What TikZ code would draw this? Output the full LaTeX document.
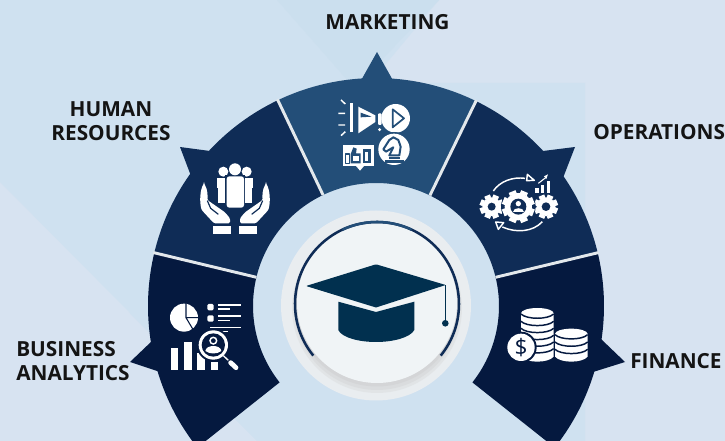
\documentclass[tikz,border=0pt]{standalone}
\usepackage{fontspec}
\setmainfont{Open Sans}
\definecolor{bgbase}{HTML}{D7E3F1}
\definecolor{bglight}{HTML}{CFE1F0}
\definecolor{bgdark}{HTML}{CBDFEE}
\definecolor{segmk}{HTML}{234E78}
\definecolor{seghr}{HTML}{0F2C56}
\definecolor{segba}{HTML}{05193F}
\definecolor{divline}{HTML}{E3E8EC}
\definecolor{ringc}{HTML}{E9EDF0}
\definecolor{disc}{HTML}{F0F4F6}
\definecolor{capc}{HTML}{01304F}
\newcommand{\segm}[3]{\fill[#3,shift={(376,306)}] (#1:228) arc[start angle=#1,end angle=#2,radius=228] -- (#2:123) arc[start angle=#2,end angle=#1,radius=123] -- cycle;}
\newcommand{\divl}[1]{\draw[divline,line width=2.2pt,shift={(376,306)}] (#1:123) -- (#1:229);}
% cx cy r hole teeth-width holecolor
\newcommand{\gearic}[6]{\fill[white] (#1,#2) circle (#3);
 \foreach \a in {0,45,...,315}{\fill[white,shift={(#1,#2)},rotate=\a+22.5] (#3-2,-#5) rectangle (#3+8,#5);}
 \fill[#6] (#1,#2) circle (#4);}
\tikzset{lab/.style={font=\fontsize{15.6}{18}\selectfont\bfseries,text=black!92,align=center,inner sep=0pt},
 icn/.style={x=.25pt,y=-.25pt}}
\begin{document}
\begin{tikzpicture}[x=.75pt,y=-.75pt]
\useasboundingbox (0,0) rectangle (725,441);
\clip (0,0) rectangle (725,441);
% background
\fill[bgbase] (0,0) rectangle (725,441);
\fill[bglight] (0,0) -- (439,0) -- (356,100) -- (356,441) -- (257,441) -- (0,182) -- cycle;
\fill[bglight] (130,83) -- (585,83) -- (585,441) -- (257,441) -- (130,313) -- cycle;
\fill[bgdark] (277,0) -- (439,0) -- (372,70) -- (356,90) -- cycle;
% spikes
\fill[segmk] (377,52) -- (359,84) -- (395,84) -- cycle;
\fill[seghr] (180,147) -- (210,151) -- (215,170) -- (191,176) -- cycle;
\fill[seghr] (575,147) -- (543,151) -- (540,170) -- (563,178) -- cycle;
\fill[segba] (130,362) -- (152,341) -- (175,350) -- (160,372) -- cycle;
\fill[segba] (625,362) -- (601,339) -- (580,350) -- (593,372) -- cycle;
% segments
\segm{-115.5}{-64}{segmk}
\segm{-166.5}{-115.5}{seghr}
\segm{-64}{-13.5}{seghr}
\segm{141.6}{193.5}{segba}
\segm{-13.5}{38.4}{segba}
\divl{-115.5}\divl{-64}\divl{-166.5}\divl{-13.5}
% central disc
\fill[ringc] (376,305.5) circle (95);
\fill[black!22,opacity=.22] (377,308) circle (85);
\fill[black!22,opacity=.25] (377,307) circle (83);
\fill[black!22,opacity=.3] (377,305) circle (81.5);
\fill[disc] (377,303) circle (80);
\draw[seghr,line width=1.9pt,shift={(377,304)}] (141:82) arc[start angle=141,end angle=399,radius=82];
\draw[segmk,line width=1.9pt,shift={(377,304)}] (-115:82) arc[start angle=-115,end angle=-65,radius=82];
% graduation cap
\fill[capc,rounded corners=.6pt] (306,286) -- (376,264.3) -- (445.7,285) -- (376,307.5) -- cycle;
\fill[capc] (338.3,301.7) -- (376,312) -- (414.3,301.7) -- (414.3,330) .. controls (410,338) and (392,342) .. (376,342) .. controls (360,342) and (342,338) .. (338.3,330) -- cycle;
\draw[capc,line width=1pt] (445.5,285) -- (445.5,322);
\fill[capc] (445.3,323.3) circle (3.3);
% ---------- marketing icon
\begin{scope}[shift={(330,90)},icn]
\fill[white] (60,40) rectangle (70,126);
\draw[white,line width=1.1pt] (25,70)--(45,70) (25,105)--(45,105) (33,30)--(46,42) (33,137)--(46,125);
\fill[white] (85,50) -- (136,76) -- (136,96) -- (85,130) -- cycle;
\fill[segmk] (92,68) -- (125,80) -- (92,82) -- cycle;
\fill[white,rounded corners=.8pt] (144,70) rectangle (155,105);
\fill[white] (149,119) circle (5);
\fill[white] (197,85) circle (43);
\draw[segmk,line width=1.3pt,line join=round] (188,58) -- (222,85) -- (188,112) -- cycle;
\fill[white] (38,165) rectangle (132,229);
\fill[white] (78,228) -- (102,228) -- (90,242) -- cycle;
\draw[segmk,line width=1.2pt,line join=round] (46,192) rectangle (58,220);
\fill[segmk] (62,192) -- (70,172) -- (80,176) -- (78,190) -- (92,190) -- (92,220) -- (62,220) -- cycle;
\fill[white] (68,198) rectangle (86,214);
\fill[segmk] (98,178) rectangle (122,220);
\fill[white] (105,186) rectangle (115,212);
\fill[segmk] (192,178) circle (52);
\fill[white] (192,178) circle (47);
\fill[segmk] (165,211) rectangle (222,220);
\fill[segmk] (178,200) rectangle (210,206);
\draw[segmk,line width=1.5pt,line join=round] (190,142) -- (178,150) -- (160,178) -- (168,185) -- (190,172) -- (178,196) -- (208,196) -- (212,170) -- (205,150) -- cycle;
\end{scope}
% ---------- human resources icon
\begin{scope}[shift={(190,155)},icn]
\fill[white] (100,50) circle (15);
\fill[white] (170,50) circle (15);
\fill[white] (80,68) rectangle (106,100);
\fill[white] (85,100) rectangle (106,145);
\fill[white] (164,68) rectangle (190,100);
\fill[white] (164,100) rectangle (185,145);
\fill[seghr] (104,60) rectangle (166,162);
\fill[white] (135,43) circle (18);
\fill[white,rounded corners=2pt] (110,64) rectangle (162,158);
\foreach \sx/\dx in {1/0,-1/270}{
 \begin{scope}[shift={(\dx,0)},xscale=\sx]
 \fill[white,rounded corners=1pt] (42,85) .. controls (54,105) and (53,125) .. (52,135) -- (105,172) -- (120,190) -- (120,205) -- (72,205) -- (35,165) .. controls (28,140) and (30,105) .. (42,85) -- cycle;
 \draw[seghr,line width=.9pt] (52,137) -- (62,160) -- (85,178);
 \fill[white] (70,213) rectangle (122,238);
 \end{scope}}
\end{scope}
% ---------- operations icon
\begin{scope}[shift={(475,165)},icn]
\gearic{50}{125}{28}{12}{9}{seghr}
\gearic{213}{125}{28}{13}{9}{seghr}
\fill[seghr] (130,125) circle (52);
\gearic{130}{125}{41}{24}{11}{seghr}
\fill[white] (130,116) circle (8);
\fill[white] (114,142) .. controls (114,125) and (146,125) .. (146,142) -- cycle;
\draw[white,line width=1.1pt] (55,78) .. controls (75,48) and (115,35) .. (150,40);
\draw[white,line width=1.1pt,line join=round] (157,28) -- (178,46) -- (155,47) -- cycle;
\draw[white,line width=1.1pt] (202,170) .. controls (175,200) and (125,205) .. (82,186);
\draw[white,line width=1.1pt,line join=round] (62,171) -- (86,173) -- (70,193) -- cycle;
\fill[white] (180,70) rectangle (191,85);
\fill[white] (197,60) rectangle (208,85);
\fill[white] (215,48) rectangle (226,85);
\draw[white,line width=.8pt] (190,55) -- (212,38);
\fill[white] (219,28) -- (207,34) -- (214,42) -- cycle;
\end{scope}
% ---------- business analytics icon
\begin{scope}[shift={(160,295)},icn]
\fill[white] (72,68) circle (42);
\draw[segba,line width=.8pt] (78,26) -- (78,68) -- (116,68) (78,68) -- (100,105);
\fill[white,rounded corners=1pt] (142,27) rectangle (161,46);
\fill[white,rounded corners=1pt] (142,61) rectangle (161,80);
\draw[white,line width=1.2pt] (175,30)--(243,30) (175,42)--(210,42) (175,63)--(243,63) (175,77)--(210,77) (150,97)--(243,97) (175,110)--(205,110);
\fill[white] (32,158) rectangle (55,225);
\fill[white] (72,140) rectangle (95,225);
\fill[white] (112,175) rectangle (135,225);
\fill[white] (152,200) rectangle (175,225);
\fill[segba] (160,150) circle (50);
\fill[white] (160,150) circle (44);
\fill[segba] (160,150) circle (35);
\draw[white,line width=1.1pt] (160,137) circle (10);
\fill[white] (136,168) .. controls (138,148) and (182,148) .. (184,168) .. controls (170,178) and (150,178) .. (136,168) -- cycle;
\draw[white,line width=1pt] (190,182) -- (205,196);
\draw[white,line width=3.6pt,line cap=round] (212,203) -- (228,218);
\end{scope}
% ---------- finance icon
\begin{scope}[shift={(470,240)},icn]
\fill[white] (153,220) -- (153,350) .. controls (170,370) and (234,370) .. (251,350) -- (251,220) -- cycle;
\fill[white] (202,220) ellipse (49 and 16);
\fill[white] (304,282) ellipse (49 and 16);
\fill[white] (255,282) -- (255,350) .. controls (272,370) and (336,370) .. (353,350) -- (353,282) -- cycle;
\foreach \y in {222,244,265,286,306,326}{
 \draw[segba,line width=1.1pt] (153,\y) .. controls (170,\y+17) and (234,\y+17) .. (251,\y);}
\foreach \y in {284,306,328}{
 \draw[segba,line width=1.1pt] (255,\y) .. controls (272,\y+17) and (336,\y+17) .. (353,\y);}
\fill[segba] (153,322) circle (47);
\fill[white] (153,322) circle (41);
\node[inner sep=0pt,text=segba,font=\fontsize{17}{17}\selectfont] (dollar) at (153,322) {\$};
\end{scope}
% labels
\node[lab] (mk) at (387.5,22) {MARKETING};
\node[lab] (hr) at (111,121) {HUMAN\\RESOURCES};
\node[lab,anchor=west] (op) at (593,132) {OPERATIONS};
\node[lab,anchor=west] (fi) at (630,361) {FINANCE};
\node[lab,anchor=west,align=left] (ba) at (16,361.5) {BUSINESS\\ANALYTICS};
\end{tikzpicture}
\end{document}
